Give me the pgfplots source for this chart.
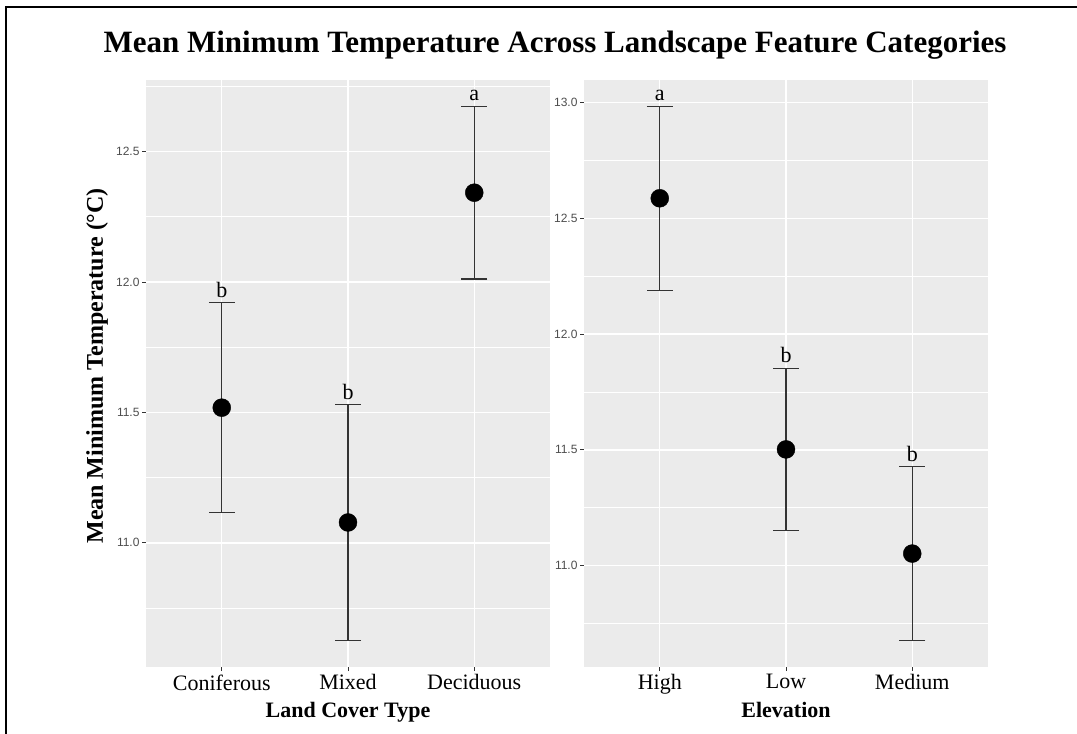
\documentclass[border=0pt]{standalone}
\usepackage{fontspec}
\setmainfont{Liberation Serif}
\setsansfont{Liberation Sans}
\usepackage{pgfplots}
\pgfplotsset{compat=1.18}

\definecolor{panelbg}{HTML}{EBEBEB}
\definecolor{ticktext}{HTML}{4D4D4D}
\definecolor{tickmark}{HTML}{333333}
\definecolor{barcol}{HTML}{333333}

\pgfplotsset{
  ggpanel/.style={
    scale only axis, width=404pt, height=587pt,
    anchor=south west,
    axis background/.style={fill=panelbg, draw=none},
    axis line style={draw=none},
    xmin=0.4, xmax=3.6,
    xtick={1,2,3},
    grid=both,
    major grid style={white, line width=1.4pt},
    minor grid style={white, line width=0.7pt},
    tick align=outside, tick pos=left,
    major tick length=4pt, minor tick length=0pt,
    tick style={tickmark, line width=0.8pt},
    yticklabel style={font=\sffamily\fontsize{12}{12}\selectfont, text=ticktext, xshift=1pt,
      /pgf/number format/fixed, /pgf/number format/fixed zerofill,
      /pgf/number format/precision=1, /pgf/number format/assume math mode=true},
    xticklabel style={font=\rmfamily\fontsize{22}{22}\selectfont, text=black},
    xlabel style={font=\bfseries\fontsize{22}{22}\selectfont,
      at={(axis description cs:0.5,0)}, anchor=north, inner sep=0pt, yshift=-35pt},
    clip=false,
  },
  errbars/.style={
    only marks, mark=none, barcol, line width=1.3pt,
    error bars/.cd, y dir=both, y explicit,
    error mark=|,
    error bar style={barcol, line width=1.3pt},
    error mark options={barcol, line width=1.3pt, mark size=13pt},
  },
  dots/.style={only marks, mark=*, mark size=9pt, black},
  letters/.style={
    only marks, mark=none, nodes near coords, point meta=explicit symbolic,
    every node near coord/.append style={anchor=south, inner sep=0pt, yshift=5pt,
      font=\rmfamily\fontsize{22}{22}\selectfont, text=black},
  },
}

% mean, half-width of the interval, upper end of the interval, letter group
\pgfplotstableread{
x  m       e       u       l
1  11.518  0.403   11.921  b
2  11.078  0.452   11.530  b
3  12.342  0.331   12.673  a
}\landcover

\pgfplotstableread{
x  m       e       u       l
1  12.587  0.397   12.984  a
2  11.502  0.351   11.853  b
3  11.052  0.375   11.427  b
}\elevation

\begin{document}
\begin{tikzpicture}
\useasboundingbox (0pt,0pt) rectangle (1077pt,734pt);
% outer frame
\draw[line width=1.5pt] (6pt,-10pt) -- (6pt,727pt) -- (1090pt,727pt);

\node[anchor=base, font=\bfseries\fontsize{31}{31}\selectfont] at (555pt,681pt)
  {Mean Minimum Temperature Across Landscape Feature Categories};

\begin{axis}[ggpanel, at={(146pt,67pt)},
  ymin=10.524, ymax=12.774,
  ytick={11,11.5,12,12.5},
  minor ytick={10.75,11.25,11.75,12.25,12.75},
  xticklabels={Coniferous,Mixed,Deciduous},
  xlabel={Land Cover Type},
  ylabel={Mean Minimum Temperature (°C)},
  ylabel style={font=\bfseries\fontsize{24}{24}\selectfont,
    at={(axis description cs:-0.1213,0.513)}, anchor=center},
]
\addplot[errbars] table[x=x, y=m, y error=e] {\landcover};
\addplot[dots] table[x=x, y=m] {\landcover};
\addplot[letters] table[x=x, y=u, meta=l] {\landcover};
\end{axis}

\begin{axis}[ggpanel, at={(584pt,67pt)},
  ymin=10.562, ymax=13.098,
  ytick={11,11.5,12,12.5,13},
  minor ytick={10.75,11.25,11.75,12.25,12.75},
  xticklabels={High,Low,Medium},
  xlabel={Elevation},
]
\addplot[errbars] table[x=x, y=m, y error=e] {\elevation};
\addplot[dots] table[x=x, y=m] {\elevation};
\addplot[letters] table[x=x, y=u, meta=l] {\elevation};
\end{axis}
\end{tikzpicture}
\end{document}
